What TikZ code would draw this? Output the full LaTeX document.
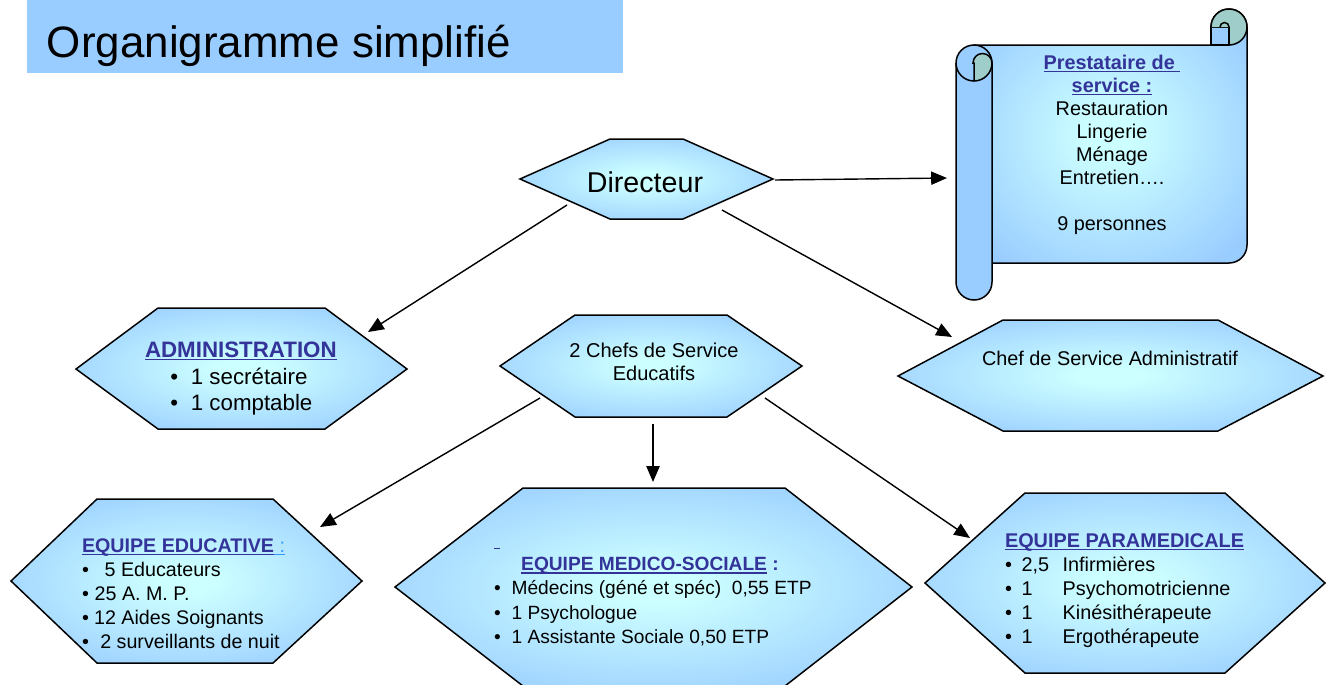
\documentclass[tikz,border=0pt]{standalone}
\usepackage{fontspec}
\setmainfont{Liberation Sans}
\usetikzlibrary{arrows.meta}
\definecolor{cout}{HTML}{99CCFF}
\definecolor{cin}{HTML}{CCFFFF}
\definecolor{tealc}{HTML}{9FCDC9}
\definecolor{dblue}{HTML}{333399}
\definecolor{lblue}{HTML}{3399FF}
\pgfdeclareradialshading{glow}{\pgfpoint{0bp}{0bp}}{color(0bp)=(cin); color(4bp)=(cin); color(32bp)=(cout); color(50bp)=(cout)}
\newcommand{\ulx}[1]{\mbox{\setbox0\hbox{#1}\rlap{\rule[-1.9pt]{\wd0}{1pt}}\box0}}
\newcommand{\hd}[1]{\textcolor{dblue}{\textbf{\ulx{#1}}}}
\newcommand{\fz}[2]{\fontsize{#1}{#2}\selectfont}
\newcommand{\bl}[1]{\makebox[#1][l]{\textbullet}}
\begin{document}
\begin{tikzpicture}[x=0.02cm,y=0.02cm,
  hexa/.style={shading=glow, draw=black, line width=0.85pt},
  arr/.style={line width=0.8pt, -{Triangle[length=9pt,width=7.5pt]}},
  lbl/.style={inner sep=0pt, outer sep=0pt},
  edge/.style={line width=0.85pt}]
\useasboundingbox (0,0) rectangle (1329,-684);

% title
\fill[cout] (27,0) rectangle (623,-73);
\node[lbl, anchor=base west, font=\fz{25}{30}] (title) at (47,-57) {Organigramme simplifié};

% hexagons
\shadedraw[hexa] (520,-179) -- (610,-139) -- (683,-139) -- (773,-179) -- (683,-219) -- (610,-219) -- cycle;
\shadedraw[hexa] (76,-369) -- (158,-308) -- (325,-308) -- (407,-369) -- (325,-429) -- (158,-429) -- cycle;
\shadedraw[hexa] (500,-366) -- (575,-315) -- (727,-315) -- (802,-366) -- (727,-417) -- (575,-417) -- cycle;
\shadedraw[hexa] (898,-376) -- (1003,-320) -- (1218,-320) -- (1323,-376) -- (1218,-431) -- (1003,-431) -- cycle;
\shadedraw[hexa] (11,-581) -- (97,-499) -- (273,-499) -- (362,-581) -- (273,-663) -- (97,-663) -- cycle;
\shadedraw[hexa] (395,-587) -- (523,-488) -- (785,-488) -- (912,-587) -- (785,-686) -- (523,-686) -- cycle;
\shadedraw[hexa] (925,-583) -- (1025,-493) -- (1225,-493) -- (1325,-583) -- (1225,-673) -- (1025,-673) -- cycle;

% scroll
\shadedraw[shading=glow, edge] (974,-45) -- (1211,-45) -- (1211,-27) arc[start angle=180,end angle=0,radius=0.36cm] -- (1247,-245) arc[start angle=0,end angle=-90,radius=0.36cm] -- (974,-263) -- cycle;
\filldraw[fill=cout, edge] (1211,-27) rectangle (1229,-45);
\fill[tealc] (1211,-27) arc[start angle=180,end angle=-90,radius=0.36cm] -- (1229,-27) -- cycle;
\draw[edge] (1211,-27) arc[start angle=180,end angle=-90,radius=0.36cm] -- (1229,-27) arc[start angle=0,end angle=180,radius=0.09cm];
\filldraw[fill=cout, edge] (992,-63) -- (992,-282) arc[start angle=0,end angle=-180,radius=0.36cm] -- (956,-63) arc[start angle=180,end angle=0,radius=0.36cm] -- cycle;
\draw[edge] (956,-63) arc[start angle=180,end angle=270,radius=0.36cm];
\filldraw[fill=tealc, edge] (974,-63) -- (974,-81) arc[start angle=-90,end angle=0,radius=0.36cm] arc[start angle=0,end angle=180,radius=0.19cm] -- cycle;

% texts
\node[lbl, anchor=base, font=\fz{16.3}{19}] (dir) at (645,-192) {Directeur};
\node[lbl, anchor=base west, font=\fz{12.7}{14.8}] (adm) at (145,-357) {\begin{tabular}[t]{@{}l@{}}\hd{ADMINISTRATION}\\[1pt]
 \hspace*{14.5pt}\bl{11.6pt}1 secrétaire\\
 \hspace*{14.5pt}\bl{11.6pt}1 comptable\end{tabular}};
\node[lbl, anchor=base, font=\fz{11.4}{13.1}] (chefs) at (654,-357) {\begin{tabular}[t]{@{}c@{}}2 Chefs de Service\\Educatifs\end{tabular}};
\node[lbl, anchor=base, font=\fz{11.3}{13.1}] (csa) at (1110,-365) {Chef de Service Administratif};
\node[lbl, anchor=base west, font=\fz{11.2}{13.7}] (edu) at (82,-552) {\begin{tabular}[t]{@{}l@{}}\hd{EQUIPE EDUCATIVE}\textcolor{lblue}{\ulx{\ :}}\\
 \textbullet\hspace{9pt}5 Educateurs\\
 \textbullet\hspace{3.3pt}25 A. M. P.\\
 \textbullet\hspace{3pt}12 Aides Soignants\\
 \textbullet\hspace{6.5pt}2 surveillants de nuit\end{tabular}};
\node[lbl, anchor=base west, font=\fz{10.9}{13.9}] (med) at (494,-546) {\begin{tabular}[t]{@{}l@{}}\textcolor{dblue}{\rule[-1.9pt]{3.2pt}{1pt}}\\
 \hspace*{15.5pt}\hd{EQUIPE MEDICO-SOCIALE}\textcolor{dblue}{\textbf{ :}}\\
 \bl{10pt}Médecins (géné et spéc)\ \ 0,55 ETP\\
 \bl{10pt}1 Psychologue\\
 \bl{10pt}1 Assistante Sociale 0,50 ETP\end{tabular}};
\node[lbl, anchor=base west, font=\fz{11.3}{13.8}] (para) at (1005,-547) {\begin{tabular}[t]{@{}l@{}l@{}l@{}}\multicolumn{3}{@{}l@{}}{\hd{EQUIPE PARAMEDICALE}}\\
 \bl{9.5pt}&\makebox[23.3pt][l]{2,5}&Infirmières\\
 \bl{9.5pt}&\makebox[23.3pt][l]{1}&Psychomotricienne\\
 \bl{9.5pt}&\makebox[23.3pt][l]{1}&Kinésithérapeute\\
 \bl{9.5pt}&\makebox[23.3pt][l]{1}&Ergothérapeute\end{tabular}};
\node[lbl, anchor=base, font=\fz{11.3}{13.1}] (prest) at (1112,-69) {\begin{tabular}[t]{@{}c@{}}\hd{Prestataire de\ }\\\hd{service :}\\Restauration\\Lingerie\\Ménage\\Entretien….\\ \\9 personnes\end{tabular}};

% connector end points
\coordinate (dirR) at (775,-180);
\coordinate (prestL) at (947,-178);
\coordinate (dirSW) at (567,-205);
\coordinate (admNE) at (368,-332);
\coordinate (dirSE) at (722,-210);
\coordinate (csaNW) at (952,-337);
\coordinate (chefsSW) at (540,-398);
\coordinate (eduNE) at (320,-527);
\coordinate (chefsS) at (653,-424);
\coordinate (medN) at (653,-482);
\coordinate (chefsSE) at (765,-398);
\coordinate (paraNW) at (970,-538);

\draw[arr] (dirR) -- (prestL);
\draw[arr] (dirSW) -- (admNE);
\draw[arr] (dirSE) -- (csaNW);
\draw[arr] (chefsSW) -- (eduNE);
\draw[arr] (chefsS) -- (medN);
\draw[arr] (chefsSE) -- (paraNW);
\end{tikzpicture}
\end{document}
